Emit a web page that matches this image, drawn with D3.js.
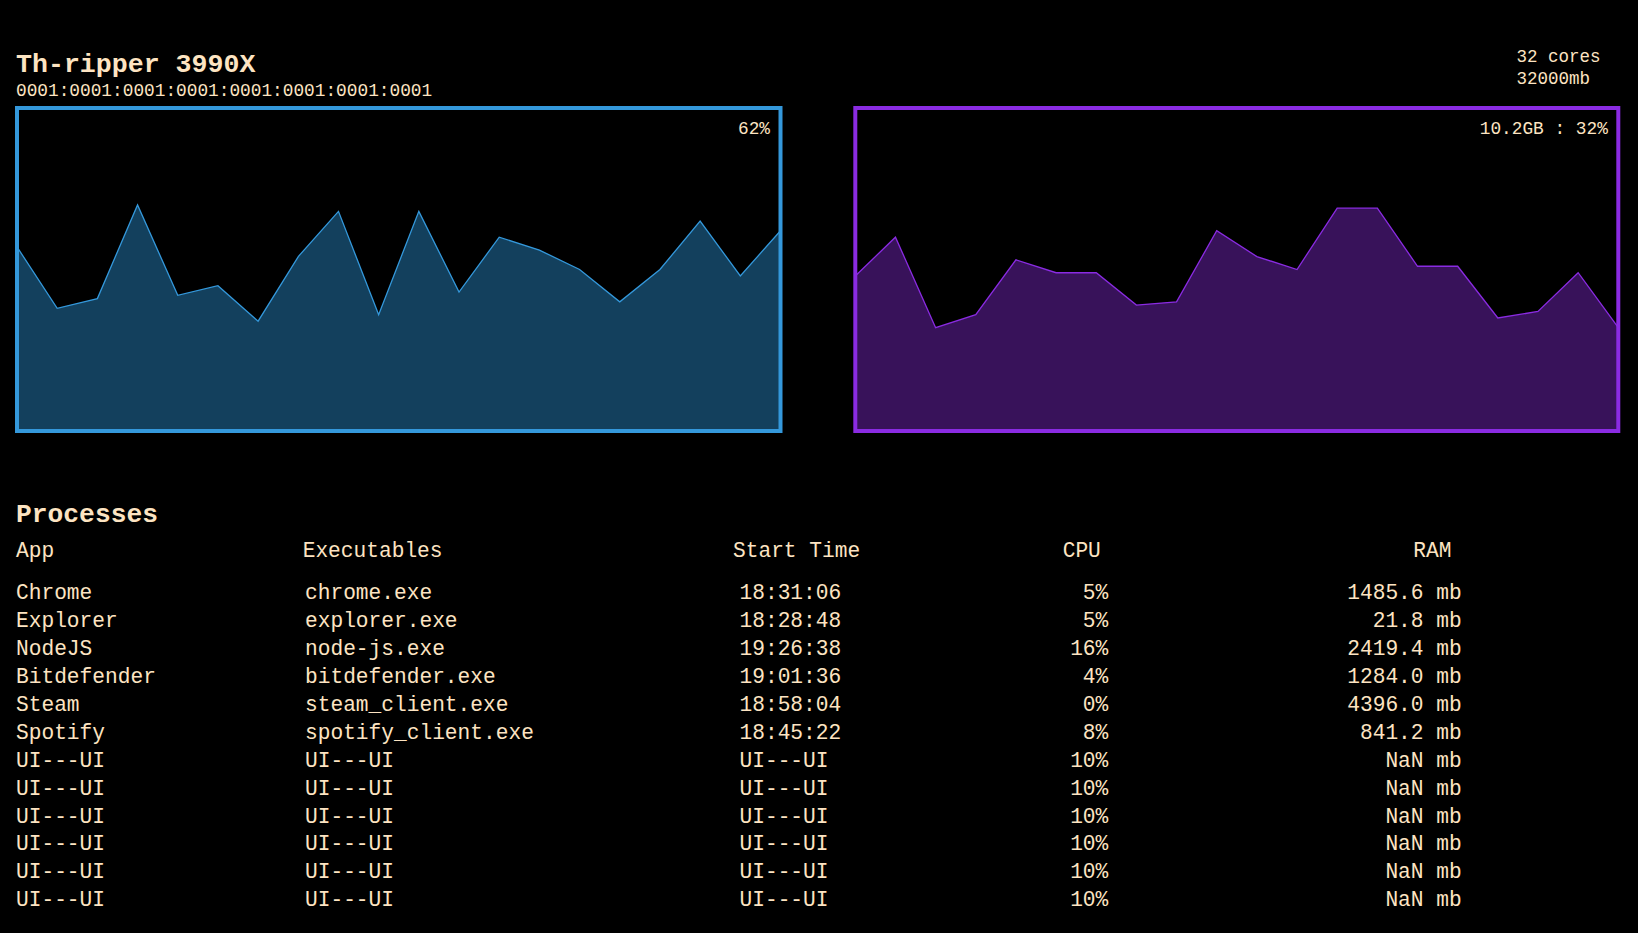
<!DOCTYPE html>
<html>
<head>
<meta charset="utf-8">
<script src="https://cdn.jsdelivr.net/npm/d3@7"></script>
<style>
  html, body { margin: 0; padding: 0; background: #000; }
  svg { display: block; }
  text { font-family: "Liberation Mono", "DejaVu Sans Mono", monospace; fill: #fde4c2; }
</style>
</head>
<body>
<svg id="chart" width="1638" height="933"></svg>
<script>
// ---------- data ----------
const cpuName = "Th-ripper 3990X";
const cpuId = "0001:0001:0001:0001:0001:0001:0001:0001";
const coresLabel = "32 cores";
const memLabel = "32000mb";

const cpuHistory = [57, 38, 41, 70, 42, 45, 34, 54, 68, 36, 68, 43, 60, 56, 50, 40, 50, 65, 48, 62];
const ramHistory = [48, 60, 32, 36, 53, 49, 49, 39, 40, 62, 54, 50, 69, 69, 51, 51, 35, 37, 49, 32];
const totalRamMb = 32000;

const tableHeaders = ["App", "Executables", "Start Time", "CPU", "RAM"];
const apps = ["Chrome", "Explorer", "NodeJS", "Bitdefender", "Steam", "Spotify",
  "UI---UI", "UI---UI", "UI---UI", "UI---UI", "UI---UI", "UI---UI"];
const executables = ["chrome.exe", "explorer.exe", "node-js.exe", "bitdefender.exe", "steam_client.exe", "spotify_client.exe",
  "UI---UI", "UI---UI", "UI---UI", "UI---UI", "UI---UI", "UI---UI"];
const startTimes = ["18:31:06", "18:28:48", "19:26:38", "19:01:36", "18:58:04", "18:45:22",
  "UI---UI", "UI---UI", "UI---UI", "UI---UI", "UI---UI", "UI---UI"];
const cpuUsage = [5, 5, 16, 4, 0, 8, 10, 10, 10, 10, 10, 10];
const ramUsage = [1485.6, 21.8, 2419.4, 1284.0, 4396.0, 841.2, NaN, NaN, NaN, NaN, NaN, NaN];

// ---------- drawing ----------
const svg = d3.select("#chart");

svg.append("text").attr("x", 16).attr("y", 72)
  .style("font-size", "26.6px").style("font-weight", "bold").text(cpuName);
svg.append("text").attr("x", 16).attr("y", 96)
  .style("font-size", "17.8px").text(cpuId);
svg.append("text").attr("x", 1516.5).attr("y", 62.3)
  .style("font-size", "17.5px").text(coresLabel);
svg.append("text").attr("x", 1516.5).attr("y", 84.3)
  .style("font-size", "17.5px").text(memLabel);

function drawPanel(data, x0, x1, color, fillColor, label) {
  const top = 108, bottom = 431;
  const x = d3.scaleLinear().domain([0, data.length - 1]).range([x0, x1]);
  const y = d3.scaleLinear().domain([0, 100]).range([bottom, top]);
  const g = svg.append("g");
  g.append("path").datum(data)
    .attr("d", d3.area().x((d, i) => x(i)).y0(y(0)).y1(d => y(d)))
    .attr("fill", fillColor);
  g.append("path").datum(data)
    .attr("d", d3.line().x((d, i) => x(i)).y(d => y(d)))
    .attr("fill", "none").attr("stroke", color).attr("stroke-width", 1.3);
  g.append("rect").attr("x", x0).attr("y", top)
    .attr("width", x1 - x0).attr("height", bottom - top)
    .attr("fill", "none").attr("stroke", color).attr("stroke-width", 4);
  g.append("text").attr("x", x1 - 10.5).attr("y", 134)
    .attr("text-anchor", "end").style("font-size", "17.8px").text(label);
}

const lastCpu = cpuHistory[cpuHistory.length - 1];
const lastRam = ramHistory[ramHistory.length - 1];
drawPanel(cpuHistory, 17, 780.5, "#3498db", "#13405d", lastCpu + "%");
drawPanel(ramHistory, 855.3, 1618.3, "#8a2be2", "#38125a",
  (totalRamMb * lastRam / 100 / 1000).toFixed(1) + "GB : " + lastRam + "%");

// ---------- processes table ----------
svg.append("text").attr("x", 16).attr("y", 522.3)
  .style("font-size", "26.3px").style("font-weight", "bold").text("Processes");

const fs = "21.2px";
const headerX = [16, 302.7, 733, 1062.7, 1413.3];
svg.append("g").selectAll("text").data(tableHeaders).join("text")
  .attr("x", (d, i) => headerX[i]).attr("y", 556.7)
  .style("font-size", fs).text(d => d);

const rowY = d3.scaleLinear().domain([0, 1]).range([599.3, 627.2]);
const rows = apps.map((a, i) => ({
  app: a, exe: executables[i], time: startTimes[i],
  cpu: cpuUsage[i] + "%", ram: ramUsage[i].toFixed(1).replace("NaN", "NaN") + " mb"
}));
const cols = [
  { key: "app", x: 16, anchor: "start" },
  { key: "exe", x: 305, anchor: "start" },
  { key: "time", x: 739.5, anchor: "start" },
  { key: "cpu", x: 1108.3, anchor: "end" },
  { key: "ram", x: 1461.7, anchor: "end" }
];
const rowG = svg.append("g").selectAll("g").data(rows).join("g")
  .attr("transform", (d, i) => `translate(0,${rowY(i)})`);
cols.forEach(c => {
  rowG.append("text").attr("x", c.x).attr("y", 0)
    .attr("text-anchor", c.anchor).style("font-size", fs)
    .text(d => d[c.key]);
});
</script>
</body>
</html>
